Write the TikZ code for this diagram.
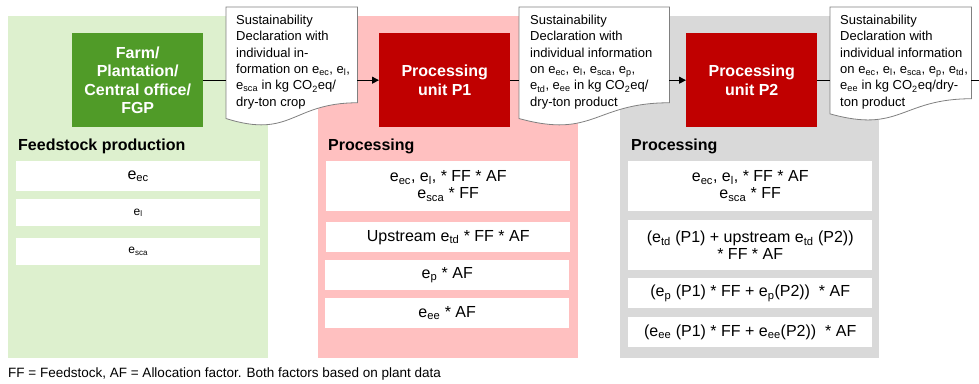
\documentclass[tikz,border=0pt]{standalone}
\usepackage{fontspec}
\setmainfont{Liberation Sans}
\usetikzlibrary{arrows.meta,calc}
\definecolor{greenbg}{RGB}{221,240,206}
\definecolor{farmgreen}{RGB}{80,155,40}
\definecolor{pinkbg}{RGB}{255,192,192}
\definecolor{unitred}{RGB}{192,0,0}
\definecolor{graybg}{RGB}{217,217,217}
\definecolor{docborder}{RGB}{128,128,128}
\newcommand{\sbs}[1]{\textsubscript{#1}}
\newcommand{\drawdoc}[1]{%
  \draw[docline] let \p1=(#1.north west), \p2=(#1.south east) in
    (\x1,\y1) -- (\x2,\y1) -- (\x2,{\y1+0.802*(\y2-\y1)})
    .. controls ({(\x1+\x2)/2},{\y1+0.802*(\y2-\y1)}) and ({(\x1+\x2)/2},{\y1+1.107*(\y2-\y1)})
    .. (\x1,{\y1+0.934*(\y2-\y1)}) -- cycle;}
\tikzset{
  panel/.style={draw=none, anchor=north west, inner sep=0pt},
  unitbox/.style={draw=none, anchor=north west, inner sep=0pt, text=white, align=center,
    font=\bfseries\fontsize{16}{18.5}\selectfont},
  rowbox/.style={fill=white, draw=none, anchor=north west, inner sep=0pt, align=center,
    font=\fontsize{16}{17}\selectfont},
  smallrow/.style={rowbox, font=\fontsize{12}{14}\selectfont},
  heading/.style={anchor=base west, inner sep=0pt, font=\bfseries\fontsize{16}{18}\selectfont},
  docbox/.style={draw=none, anchor=north west, inner sep=0pt},
  docline/.style={draw=docborder, fill=white, line width=0.8pt},
  doctext/.style={anchor=north west, inner sep=0pt, align=left, font=\fontsize{13}{16.3}\selectfont},
  conn/.style={draw=black, line width=0.9pt},
  arr/.style={conn, -{Triangle[length=7pt,width=7pt]}},
  note/.style={anchor=base west, inner sep=0pt, font=\fontsize{13.5}{16}\selectfont}
}
\begin{document}
\begin{tikzpicture}[x=1pt,y=-1pt]
\useasboundingbox (0,0) rectangle (979,383);
% background panels
\node[panel, fill=greenbg, minimum width=260pt, minimum height=342pt] (pg) at (8,16) {};
\node[panel, fill=pinkbg, minimum width=260pt, minimum height=342pt] (pp) at (318,16) {};
\node[panel, fill=graybg, minimum width=259pt, minimum height=342pt] (pz) at (620,16) {};
% unit boxes
\node[unitbox, fill=farmgreen, minimum width=131pt, minimum height=94pt] (farm) at (72,33) {Farm/\\Plantation/\\Central office/\\FGP};
\node[unitbox, fill=unitred, minimum width=131pt, minimum height=94pt] (p1) at (379,33) {Processing\\unit P1};
\node[unitbox, fill=unitred, minimum width=131pt, minimum height=94pt] (p2) at (686,33) {Processing\\unit P2};
% documents
\node[docbox, minimum width=131pt, minimum height=119pt] (d1) at (226,7) {};
\node[docbox, minimum width=150pt, minimum height=119pt] (d2) at (519,7) {};
\node[docbox, minimum width=141pt, minimum height=114pt] (d3) at (830,7) {};
\drawdoc{d1}
\drawdoc{d2}
\drawdoc{d3}
\node[doctext] (d1t) at (236,15) {Sustainability\\Declaration with\\individual in-\\formation on e\sbs{ec}, e\sbs{l},\\e\sbs{sca} in kg CO\sbs{2}eq/\\dry-ton crop};
\node[doctext] (d2t) at (530,15) {Sustainability\\Declaration with\\individual information\\on e\sbs{ec}, e\sbs{l}, e\sbs{sca}, e\sbs{p},\\e\sbs{td}, e\sbs{ee} in kg CO\sbs{2}eq/\\dry-ton product};
\node[doctext] (d3t) at (840,15) {Sustainability\\Declaration with\\individual information\\on e\sbs{ec}, e\sbs{l}, e\sbs{sca}, e\sbs{p}, e\sbs{td},\\e\sbs{ee} in kg CO\sbs{2}eq/dry-\\ton product};
% connectors
\coordinate (endp) at (979,80);
\draw[conn] (farm.east) -- (farm.east -| d1.west);
\draw[arr] (p1.west -| d1.east) -- (p1.west);
\draw[conn] (p1.east) -- (p1.east -| d2.west);
\draw[arr] (p2.west -| d2.east) -- (p2.west);
\draw[conn] (p2.east) -- (p2.east -| d3.west);
\draw[conn] (endp -| d3.east) -- (endp);
% headings
\node[heading] (hg) at (18,150) {Feedstock production};
\node[heading] (hp) at (328,150) {Processing};
\node[heading] (hz) at (631,150) {Processing};
% green rows
\node[rowbox, minimum width=244pt, minimum height=30pt] (g1) at (16,161) {e\sbs{ec}};
\node[smallrow, minimum width=244pt, minimum height=27pt] (g2) at (16,199) {e\sbs{l}};
\node[smallrow, minimum width=244pt, minimum height=27pt] (g3) at (16,238) {e\sbs{sca}};
% pink rows
\node[rowbox, minimum width=244pt, minimum height=50pt] (k1) at (326,161) {e\sbs{ec}, e\sbs{l}, * FF * AF\\e\sbs{sca} * FF};
\node[rowbox, minimum width=244pt, minimum height=30pt] (k2) at (326,222) {Upstream e\sbs{td} * FF * AF};
\node[rowbox, minimum width=244pt, minimum height=30pt] (k3) at (325,260) {e\sbs{p} * AF};
\node[rowbox, minimum width=244pt, minimum height=30pt] (k4) at (325,298) {e\sbs{ee} * AF};
% gray rows
\node[rowbox, minimum width=244pt, minimum height=50pt] (z1) at (628,161) {e\sbs{ec}, e\sbs{l}, * FF * AF\\e\sbs{sca} * FF};
\node[rowbox, minimum width=244pt, minimum height=50pt] (z2) at (628,220) {(e\sbs{td} (P1) + upstream e\sbs{td} (P2))\\* FF * AF};
\node[rowbox, minimum width=244pt, minimum height=30pt] (z3) at (628,278) {(e\sbs{p} (P1) * FF + e\sbs{p}(P2))\ \ * AF};
\node[rowbox, minimum width=244pt, minimum height=30pt] (z4) at (628,317) {(e\sbs{ee} (P1) * FF + e\sbs{ee}(P2))\ \ * AF};
% footnote
\node[note] (fn) at (8,377) {FF = Feedstock, AF = Allocation factor. Both factors based on plant data};
\end{tikzpicture}
\end{document}
